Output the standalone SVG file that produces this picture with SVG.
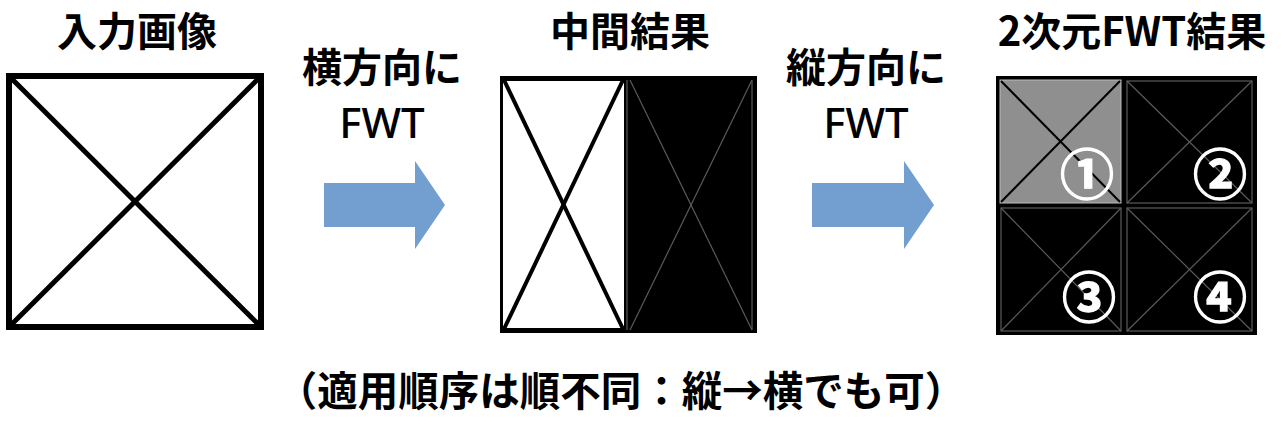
<svg xmlns="http://www.w3.org/2000/svg" width="1283" height="424" viewBox="0 0 1283 424">
<style>
.t{font-family:"Noto Sans CJK JP","Noto Sans",sans-serif;font-weight:700;fill:#000;text-anchor:middle}
.f{font-family:"Noto Sans","Noto Sans CJK JP",sans-serif;font-weight:500;fill:#000;text-anchor:middle}
.num{font-family:"Noto Sans CJK JP",sans-serif;font-weight:700;fill:#fff;stroke:#fff;stroke-width:1.3;text-anchor:middle}
.faint{stroke:#5a5a5a;stroke-width:1.2;fill:none}
</style>
<rect width="1283" height="424" fill="#fff"/>
<g id="input">
<text class="t" x="137" y="46" font-size="40">入力画像</text>
<rect x="9" y="76" width="252" height="251" fill="#fff" stroke="#000" stroke-width="6"/>
<line x1="10" y1="77" x2="260" y2="326" stroke="#000" stroke-width="5"/>
<line x1="260" y1="77" x2="10" y2="326" stroke="#000" stroke-width="5"/>
</g>
<g id="intermediate">
<text class="t" x="630" y="46" font-size="40">中間結果</text>
<rect x="500" y="76" width="257" height="257" fill="#000"/>
<rect x="503" y="81" width="121" height="247" fill="#fff"/>
<line x1="504" y1="80" x2="623" y2="329" stroke="#000" stroke-width="4"/>
<line x1="623" y1="80" x2="504" y2="329" stroke="#000" stroke-width="4"/>
<line x1="627" y1="80" x2="627" y2="330" class="faint"/>
<line x1="752" y1="80" x2="752" y2="330" class="faint"/>
<line x1="630" y1="80" x2="752" y2="330" class="faint"/>
<line x1="752" y1="80" x2="630" y2="330" class="faint"/>
</g>
<g id="result">
<text class="t" x="1132" y="46" font-size="40">2次元FWT結果</text>
<rect x="996" y="76" width="261" height="259" fill="#000"/>
<rect x="1000" y="80" width="121" height="123" fill="#8f8f8f" stroke="#bbb" stroke-width="1"/>
<line x1="1001" y1="81" x2="1120" y2="202" stroke="#000" stroke-width="2"/>
<line x1="1120" y1="81" x2="1001" y2="202" stroke="#000" stroke-width="2"/>
<rect x="1127" y="81" width="125" height="122" class="faint"/>
<line x1="1127" y1="81" x2="1252" y2="203" class="faint"/>
<line x1="1252" y1="81" x2="1127" y2="203" class="faint"/>
<rect x="1001" y="208" width="120" height="123" class="faint"/>
<line x1="1001" y1="208" x2="1121" y2="331" class="faint"/>
<line x1="1121" y1="208" x2="1001" y2="331" class="faint"/>
<rect x="1127" y="208" width="125" height="123" class="faint"/>
<line x1="1127" y1="208" x2="1252" y2="331" class="faint"/>
<line x1="1252" y1="208" x2="1127" y2="331" class="faint"/>
<text class="num" x="1087" y="194.5" font-size="54">①</text>
<text class="num" x="1220" y="194.5" font-size="54">②</text>
<text class="num" x="1089" y="317.5" font-size="54">③</text>
<text class="num" x="1220" y="317.5" font-size="54">④</text>
</g>
<g id="connectors">
<g id="arrow1">
<text class="t" x="382" y="82" font-size="40">横方向に</text>
<text class="f" x="382" y="138" font-size="42">FWT</text>
<polygon points="324,183 415,183 415,161 445,205 415,249 415,227 324,227" fill="#729fcf"/>
</g>
<g id="arrow2">
<text class="t" x="866" y="82" font-size="40">縦方向に</text>
<text class="f" x="866" y="138" font-size="42">FWT</text>
<polygon points="812,183 904,183 904,161 934,205 904,249 904,227 812,227" fill="#729fcf"/>
</g>
</g>
<text class="t" x="621" y="406" font-size="40.5">（適用順序は順不同：縦→横でも可）</text>
</svg>
